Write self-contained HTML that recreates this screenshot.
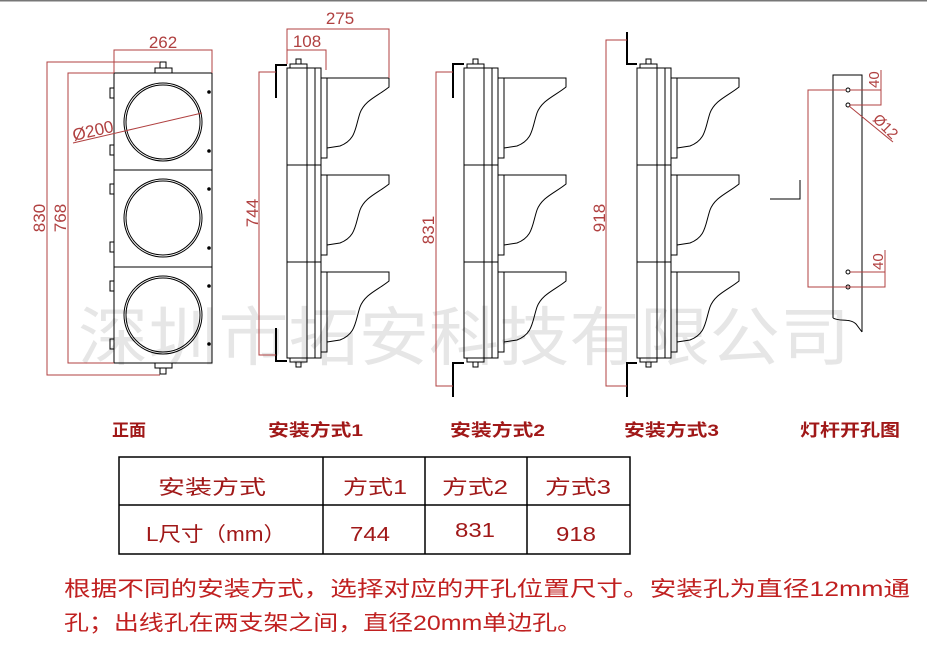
<!DOCTYPE html>
<html><head><meta charset="utf-8"><style>
html,body{margin:0;padding:0;background:#fff;}
svg{display:block;}
text{font-family:"Liberation Sans","Noto Sans CJK SC",sans-serif;}
</style></head><body>
<svg width="927" height="645" viewBox="0 0 927 645" xmlns="http://www.w3.org/2000/svg">
<rect x="0" y="0" width="927" height="645" fill="#fff"/>
<line x1="0" y1="0.5" x2="927" y2="0.5" stroke="#777" stroke-width="2"/>

<text x="78" y="360" font-size="64" fill="#e6e6e6" textLength="772" lengthAdjust="spacingAndGlyphs">深圳市拓安科技有限公司</text>

<defs>
<g id="vis" fill="none" stroke="#000" stroke-width="1">
  <rect x="321" y="0" width="6" height="80"/>
  <path d="M327,0 H389 V9 C378,18 365,22 360,35 C355,50 356,62 340,68 L327,70"/>
</g>
<g id="side" fill="none" stroke="#000" stroke-width="1">
  <rect x="287" y="68" width="34" height="290"/>
  <line x1="307" y1="68" x2="307" y2="358"/>
  <line x1="315" y1="68" x2="315" y2="358"/>
  <line x1="287" y1="165" x2="321" y2="165"/>
  <line x1="287" y1="262" x2="321" y2="262"/>
  <rect x="290" y="64" width="17" height="4"/>
  <rect x="290" y="358" width="17" height="4"/>
  <rect x="296" y="59" width="5" height="5"/>
  <rect x="296" y="362" width="5" height="5"/>
  <use href="#vis" y="78"/>
  <use href="#vis" y="175"/>
  <use href="#vis" y="272"/>
</g>
</defs>

<g fill="none" stroke="#000" stroke-width="1">
  <rect x="114" y="73" width="98" height="290"/>
  <line x1="114" y1="170" x2="212" y2="170"/>
  <line x1="114" y1="267" x2="212" y2="267"/>
  <rect x="155" y="68" width="17" height="5"/>
  <rect x="160" y="62" width="6" height="6"/>
  <rect x="155" y="363" width="17" height="5"/>
  <rect x="160" y="368" width="6" height="6"/>
  <circle cx="163" cy="122" r="39"/><circle cx="163" cy="122" r="37"/>
  <circle cx="163" cy="218" r="39"/><circle cx="163" cy="218" r="37"/>
  <circle cx="163" cy="315" r="39"/><circle cx="163" cy="315" r="37"/>
  <rect x="110" y="88" width="4" height="10"/>
  <rect x="110" y="145" width="4" height="10"/>
  <rect x="110" y="184" width="4" height="10"/>
  <rect x="110" y="242" width="4" height="10"/>
  <rect x="110" y="281" width="4" height="10"/>
  <rect x="110" y="339" width="4" height="10"/>
</g>
<g fill="#000">
  <circle cx="209" cy="92" r="1.8"/><circle cx="209" cy="151" r="1.8"/>
  <circle cx="209" cy="189" r="1.8"/><circle cx="209" cy="248" r="1.8"/>
  <circle cx="209" cy="286" r="1.8"/><circle cx="209" cy="344" r="1.8"/>
</g>
<g fill="none" stroke="#b04040" stroke-width="1">
  <path d="M114,73 V50 H212 V73"/>
  <path d="M160,62 H47 V375 H160"/>
  <path d="M114,73 H68 V363 H114"/>
  <line x1="73" y1="143" x2="202" y2="113"/>
</g>
<g fill="#b04040" font-size="17">
  <text x="163" y="48" text-anchor="middle">262</text>
  <text transform="translate(45,218) rotate(-90)" text-anchor="middle">830</text>
  <text transform="translate(66,218) rotate(-90)" text-anchor="middle">768</text>
  <text transform="translate(74,141) rotate(-13)">Ø200</text>
</g>

<use href="#side"/>
<use href="#side" x="177"/>
<use href="#side" x="350"/>
<g fill="none" stroke="#000" stroke-width="2">
  <path d="M276,98 V65 H287"/>
  <path d="M276,328 V361 H287"/>
  <path d="M453,98 V64 H464"/>
  <path d="M464,363 H453 V397"/>
  <path d="M627,32 V64 H637"/>
  <path d="M637,363 H627 V397"/>
</g>
<g fill="none" stroke="#b04040" stroke-width="1">
  <path d="M389,78 V29 H287 V64"/>
  <path d="M326,70 V50 H287"/>
  <path d="M276,72 H259 V355 H276"/>
  <path d="M453,72 H436 V386 H453"/>
  <path d="M627,40 H606 V386 H627"/>
</g>
<g fill="#b04040" font-size="17">
  <text x="340" y="24" text-anchor="middle">275</text>
  <text x="307" y="47" text-anchor="middle">108</text>
  <text transform="translate(258,213) rotate(-90)" text-anchor="middle">744</text>
  <text transform="translate(434,230) rotate(-90)" text-anchor="middle">831</text>
  <text transform="translate(605,218) rotate(-90)" text-anchor="middle">918</text>
</g>

<g fill="none" stroke="#000" stroke-width="1">
  <path d="M833,318 V75 H862 V332"/>
  <path d="M833,318 C840,322 850,318 856,324 L862,332"/>
  <circle cx="848" cy="90" r="2"/><circle cx="848" cy="105" r="2"/>
  <circle cx="848" cy="272" r="2"/><circle cx="848" cy="287" r="2"/>
</g>
<path d="M800,180 V199 H770" fill="none" stroke="#000" stroke-width="1"/>
<g fill="none" stroke="#b04040" stroke-width="1">
  <path d="M846,90 H808 V287 H885 V250"/>
  <path d="M850,90 H881 M881,70 V105 H850"/>
  <path d="M850,272 H885"/>
  <line x1="849" y1="106" x2="893" y2="142"/>
</g>
<g fill="#b04040" font-size="15">
  <text transform="translate(879,88) rotate(-90)">40</text>
  <text transform="translate(883,270) rotate(-90)">40</text>
  <text transform="translate(872,120) rotate(45)">Ø12</text>
</g>

<g fill="#a01818" font-size="17" font-weight="bold">
  <text x="112" y="436">正面</text>
  <text x="268" y="436" textLength="95" lengthAdjust="spacingAndGlyphs">安装方式1</text>
  <text x="450" y="436" textLength="95" lengthAdjust="spacingAndGlyphs">安装方式2</text>
  <text x="624" y="436" textLength="95" lengthAdjust="spacingAndGlyphs">安装方式3</text>
  <text x="800" y="436" textLength="100" lengthAdjust="spacingAndGlyphs">灯杆开孔图</text>
</g>

<g fill="none" stroke="#000" stroke-width="1.5">
  <rect x="119" y="457" width="511" height="97"/>
  <line x1="119" y1="505" x2="630" y2="505"/>
  <line x1="323" y1="457" x2="323" y2="554"/>
  <line x1="425" y1="457" x2="425" y2="554"/>
  <line x1="527" y1="457" x2="527" y2="554"/>
</g>
<g fill="#a01818" font-size="20">
  <text x="158" y="494" textLength="108" lengthAdjust="spacingAndGlyphs">安装方式</text>
  <text x="343" y="494" textLength="64" lengthAdjust="spacingAndGlyphs">方式1</text>
  <text x="442" y="494" textLength="66" lengthAdjust="spacingAndGlyphs">方式2</text>
  <text x="545" y="494" textLength="66" lengthAdjust="spacingAndGlyphs">方式3</text>
  <text x="146" y="541" textLength="140" lengthAdjust="spacingAndGlyphs">L尺寸（mm）</text>
  <text x="350" y="541" textLength="40" lengthAdjust="spacingAndGlyphs">744</text>
  <text x="455" y="537" textLength="40" lengthAdjust="spacingAndGlyphs">831</text>
  <text x="556" y="541" textLength="40" lengthAdjust="spacingAndGlyphs">918</text>
</g>

<g fill="#c02020" font-size="21">
  <text x="64" y="596" textLength="846" lengthAdjust="spacingAndGlyphs">根据不同的安装方式，选择对应的开孔位置尺寸。安装孔为直径12mm通</text>
  <text x="64" y="630" textLength="518" lengthAdjust="spacingAndGlyphs">孔；出线孔在两支架之间，直径20mm单边孔。</text>
</g>
</svg>
</body></html>
